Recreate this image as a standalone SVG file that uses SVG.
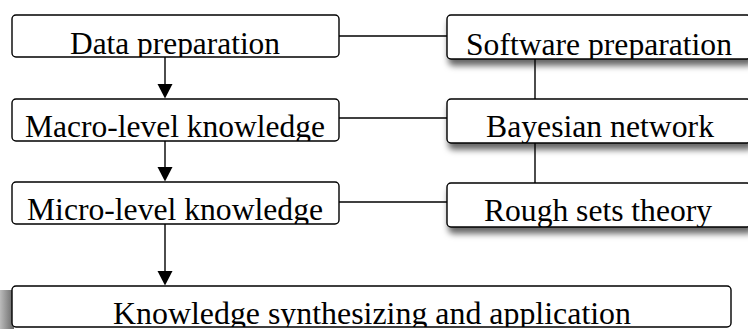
<svg xmlns="http://www.w3.org/2000/svg" width="748" height="329" viewBox="0 0 748 329">
<style>
.box{fill:#fff;stroke:#000;stroke-width:1.4}
.t{font-family:"Liberation Serif","Times New Roman",serif;font-size:30.5px;fill:#000;text-anchor:middle}
.c{stroke:#000;stroke-width:1.4;fill:none}
</style>
<defs>
<filter id="sh" x="-10%" y="-30%" width="120%" height="180%">
<feDropShadow dx="2" dy="6" stdDeviation="3" flood-color="#000" flood-opacity="0.6"/>
</filter>
<linearGradient id="lg" x1="0" y1="0" x2="1" y2="0">
<stop offset="0" stop-color="#bbb"/>
<stop offset="1" stop-color="#666"/>
</linearGradient>
<clipPath id="c1"><rect x="12" y="15" width="327" height="42"/></clipPath>
<clipPath id="c2"><rect x="12" y="99" width="327" height="42"/></clipPath>
<clipPath id="c3"><rect x="12" y="182" width="327" height="42"/></clipPath>
<clipPath id="c4"><rect x="12" y="286" width="719" height="41"/></clipPath>
<clipPath id="c5"><rect x="447" y="15" width="304" height="44"/></clipPath>
<clipPath id="c6"><rect x="447" y="99" width="304" height="44"/></clipPath>
<clipPath id="c7"><rect x="447" y="183" width="304" height="44"/></clipPath>
</defs>
<g id="connectors">
<line class="c" x1="339" y1="36" x2="447" y2="36"/>
<line class="c" x1="339" y1="118" x2="447" y2="118"/>
<line class="c" x1="339" y1="202" x2="447" y2="202"/>
<line class="c" x1="535" y1="59" x2="535" y2="99"/>
<line class="c" x1="535" y1="143" x2="535" y2="183"/>
<line class="c" x1="165" y1="57" x2="165" y2="86"/>
<polygon points="157.5,84 172.5,84 165,98.5"/>
<line class="c" x1="165" y1="141" x2="165" y2="169"/>
<polygon points="157.5,167 172.5,167 165,181.5"/>
<line class="c" x1="165" y1="224" x2="165" y2="273"/>
<polygon points="157.5,271 172.5,271 165,285.5"/>
</g>
<g id="n1">
<rect class="box" x="12" y="15" width="327" height="42" rx="4"/>
<text class="t" x="175" y="54" textLength="210" lengthAdjust="spacingAndGlyphs" clip-path="url(#c1)">Data preparation</text>
</g>
<g id="n2">
<rect class="box" x="12" y="99" width="327" height="42" rx="4"/>
<text class="t" x="175" y="137" textLength="300" lengthAdjust="spacingAndGlyphs" clip-path="url(#c2)">Macro-level knowledge</text>
</g>
<g id="n3">
<rect class="box" x="12" y="182" width="327" height="42" rx="4"/>
<text class="t" x="175" y="220" textLength="296" lengthAdjust="spacingAndGlyphs" clip-path="url(#c3)">Micro-level knowledge</text>
</g>
<g id="n4">
<rect x="0" y="290" width="14" height="39" fill="url(#lg)"/>
<rect class="box" x="12" y="286" width="719" height="41" rx="4"/>
<text class="t" x="372" y="324" textLength="518" lengthAdjust="spacingAndGlyphs" clip-path="url(#c4)">Knowledge synthesizing and application</text>
</g>
<g id="n5">
<rect class="box" x="447" y="15" width="304" height="44" rx="4" filter="url(#sh)"/>
<text class="t" x="599" y="55" textLength="266" lengthAdjust="spacingAndGlyphs" clip-path="url(#c5)">Software preparation</text>
</g>
<g id="n6">
<rect class="box" x="447" y="99" width="304" height="44" rx="4" filter="url(#sh)"/>
<text class="t" x="600" y="137" textLength="228" lengthAdjust="spacingAndGlyphs" clip-path="url(#c6)">Bayesian network</text>
</g>
<g id="n7">
<rect class="box" x="447" y="183" width="304" height="44" rx="4" filter="url(#sh)"/>
<text class="t" x="598" y="221" textLength="228" lengthAdjust="spacingAndGlyphs" clip-path="url(#c7)">Rough sets theory</text>
</g>
</svg>
